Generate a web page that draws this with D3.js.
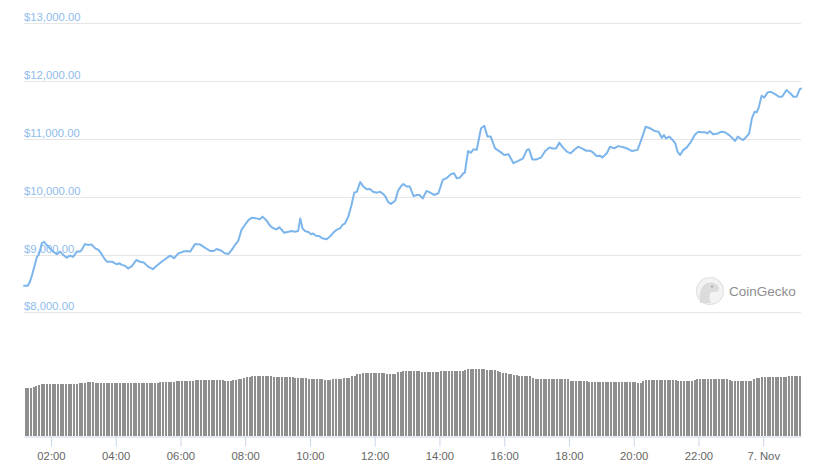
<!DOCTYPE html>
<html>
<head>
<meta charset="utf-8">
<script src="https://cdn.jsdelivr.net/npm/d3@7"></script>
<style>
  html, body { margin: 0; padding: 0; background: #ffffff; }
  svg { display: block; }
  text { font-family: "Liberation Sans", Arial, sans-serif; }
</style>
</head>
<body>
<svg id="chart" width="828" height="467"></svg>
<script>
// ---------- DATA ----------
const startTime = new Date(2019, 10, 6, 1, 10); // Nov 6, 01:10
const spanMinutes = 1440;

// price samples: minutes after start
const priceOffsets = [0,7,11,15,20,24,27,30,33,37,42,48,54,61,67,73,79,85,91,98,
104,107,113,119,125,132,138,144,150,154,163,172,177,181,187,193,200,208,215,222,
230,239,246,255,264,271,278,286,295,302,308,317,326,335,345,351,357,366,372,379,
385,391,397,403,410,416,422,431,437,442,450,456,462,468,473,478,482,490,496,502,
508,512,516,521,527,532,536,541,547,553,561,567,573,579,586,590,595,601,607,612,
617,623,629,635,641,647,654,660,666,670,675,680,688,693,699,703,709,715,722,728,
733,739,746,752,760,768,776,783,791,797,802,808,814,817,823,828,833,839,842,847,
853,859,865,873,882,890,898,907,916,925,932,936,942,950,958,966,974,980,986,992,
999,1006,1013,1021,1027,1034,1042,1049,1054,1061,1067,1072,1080,1086,1094,1101,1111,1120,1127,1137,
1145,1152,1160,1169,1176,1182,1186,1190,1196,1202,1207,1211,1216,1222,1228,1236,1244,1250,1256,1262,
1267,1271,1277,1286,1292,1299,1307,1313,1318,1323,1327,1333,1339,1344,1349,1354,1358,1362,1367,1372,
1378,1384,1392,1399,1405,1413,1420,1426,1432,1438,1440];

// price in USD at those times
const priceValues = [8460,8460,8530,8645,8820,8960,8990,9080,9195,9220,9165,9105,9050,9005,9050,8990,8945,8980,8960,9050,
9050,9080,9180,9165,9175,9105,9080,9005,8915,8875,8875,8830,8850,8820,8805,8760,8800,8905,8875,8860,
8790,8745,8805,8875,8935,8980,8935,9020,9050,9060,9050,9180,9175,9120,9060,9060,9095,9065,9020,9010,
9080,9165,9235,9425,9520,9595,9635,9625,9610,9655,9585,9495,9455,9435,9470,9425,9375,9395,9405,9395,
9405,9625,9455,9405,9390,9350,9365,9325,9320,9280,9265,9310,9375,9425,9455,9510,9540,9655,9855,10070,
10085,10255,10175,10130,10135,10085,10070,10085,10045,10000,9905,9875,9930,10100,10185,10220,10175,10175,10010,10030,
10030,9970,10100,10075,10030,10060,10290,10320,10390,10405,10320,10330,10405,10415,10790,10760,10820,10810,10950,11185,
11225,11040,11040,10835,10780,10720,10735,10580,10620,10665,10810,10820,10645,10645,10675,10790,10850,10835,10835,10935,
10850,10780,10750,10820,10865,10835,10795,10795,10770,10705,10710,10680,10750,10865,10835,10875,10855,10825,10790,10810,
11010,11210,11185,11135,11125,11020,11065,11010,11040,10980,10925,10780,10720,10810,10850,10950,11080,11125,11115,11115,
11095,11135,11080,11095,11125,11115,11065,11010,10965,11040,11010,10980,11040,11095,11355,11470,11460,11555,11745,11715,
11805,11815,11775,11730,11730,11845,11790,11730,11730,11865,11870];

// 24h volume (billions USD), one bar every 5 minutes from start
const volumeStepMinutes = 5;
const volumeValues = [
24.0,24.0,24.1,24.6,25.2,25.6,
26.0,26.0,26.1,26.0,26.0,26.0,26.1,26.0,26.0,26.0,26.0,26.1,26.0,26.0,
26.5,26.6,26.5,27.0,27.1,26.9,
26.5,26.5,26.5,26.6,26.5,26.5,26.5,26.5,26.4,26.5,26.5,26.3,26.3,26.5,26.5,26.5,26.5,26.5,26.5,26.5,26.5,26.5,26.6,26.5,
27.0,27.0,27.0,27.1,27.0,27.0,
27.5,27.5,27.6,27.5,27.5,27.5,27.5,
28.0,28.0,28.0,28.1,28.0,28.0,28.0,28.0,28.0,28.0,28.0,
27.5,27.5,27.6,28.2,28.2,28.3,28.5,29.0,29.3,29.6,
30.0,30.0,30.1,30.0,30.0,30.0,30.1,30.0,
29.3,29.3,29.3,29.4,29.3,29.3,29.3,29.3,29.2,
29.0,29.0,29.0,29.0,
28.5,28.5,28.5,28.6,28.5,28.5,
28.0,28.0,28.1,28.5,28.5,28.5,28.6,29.0,29.1,29.2,29.8,30.1,
30.8,31.2,31.3,31.3,31.3,31.3,31.4,31.3,31.3,31.3,31.3,31.2,
31.0,31.0,31.1,
31.8,32.1,32.3,32.6,32.3,32.4,32.3,32.5,32.3,
32.0,32.0,32.0,32.1,32.2,32.1,32.1,
32.5,32.5,32.6,32.5,32.5,32.4,32.5,32.5,32.6,32.8,
33.4,33.5,33.5,33.3,33.5,33.5,33.3,
32.8,32.8,32.9,32.8,32.3,31.8,31.6,31.4,31.0,30.8,30.6,30.4,
30.2,30.1,30.0,30.0,29.8,29.2,28.7,
28.6,28.6,28.7,28.6,28.6,28.6,28.6,28.6,28.7,28.6,28.6,28.6,
27.6,27.6,27.6,27.6,27.6,27.6,27.4,
27.0,27.0,27.0,27.0,27.0,27.0,27.0,27.0,27.0,27.0,27.0,27.0,27.0,27.0,27.0,27.0,27.0,27.0,
26.4,26.3,27.4,27.8,
28.0,28.0,28.0,28.0,28.0,28.0,28.0,28.0,28.0,28.0,28.0,
27.6,27.6,27.6,27.6,27.6,27.6,28.0,28.3,
28.5,28.5,28.5,28.5,28.5,28.5,28.5,28.5,28.5,28.5,28.5,
28.0,27.5,27.5,27.5,27.5,27.5,27.5,27.5,27.5,
28.3,28.8,29.2,
29.6,29.6,29.6,29.6,29.6,29.6,29.6,29.6,29.6,29.6,
30.1,30.1,30.0,30.1,30.1];

const priceTicks = [8000, 9000, 10000, 11000, 12000, 13000];
const timeTickHours = [2, 4, 6, 8, 10, 12, 14, 16, 18, 20, 22, 24];
const volumeDomainMax = 50;

// ---------- CHART ----------
const svg = d3.select("#chart");
const MIN = 60000;
const endTime = new Date(startTime.getTime() + spanMinutes * MIN);
const day0 = new Date(2019, 10, 6, 0, 0);

const x = d3.scaleTime().domain([startTime, endTime]).range([24, 801]);
const y = d3.scaleLinear().domain([8000, 13000]).range([312.3, 23.3]);
const yVol = d3.scaleLinear().domain([0, volumeDomainMax]).range([436, 336]);

// gridlines + labels
const grid = svg.append("g");
grid.selectAll("line").data(priceTicks).join("line")
  .attr("x1", 24).attr("x2", 801)
  .attr("y1", d => Math.round(y(d)) + 0.5).attr("y2", d => Math.round(y(d)) + 0.5)
  .attr("stroke", "#e6e6e6").attr("stroke-width", 1);
const fmt = d3.format("$,.2f");
grid.selectAll("text").data(priceTicks).join("text")
  .attr("x", 24).attr("y", d => Math.round(y(d)) - 2.5)
  .attr("font-size", "11.3px").attr("fill", "#8fbcec")
  .text(d => fmt(d));

// watermark
const wm = svg.append("g");
wm.append("circle").attr("cx", 710).attr("cy", 291).attr("r", 13.5)
  .attr("fill", "#f3f3f3").attr("stroke", "#e2e2e2").attr("stroke-width", 1.2);
wm.append("path")
  .attr("d", "M700,303 C699,296 700,289 704,285 C707,282 713,282 716,284 C719,286 720,289 718,291 C716,292 713,292 711,292 C709,294 709,299 711,303 Z")
  .attr("fill", "#dcdcdc");
wm.append("circle").attr("cx", 712).attr("cy", 286.5).attr("r", 1.3).attr("fill", "#b5b5b5");
wm.append("text").attr("x", 729).attr("y", 296).attr("font-size", "13.5px")
  .attr("fill", "#8e8e8e").text("CoinGecko");

// volume bars
const vol = svg.append("g").attr("shape-rendering", "crispEdges");
vol.selectAll("rect").data(volumeValues).join("rect")
  .attr("x", (d, i) => Math.round(x(new Date(startTime.getTime() + i * volumeStepMinutes * MIN)) + 0.6))
  .attr("width", 2)
  .attr("y", d => Math.round(yVol(d)))
  .attr("height", d => yVol(0) - Math.round(yVol(d)))
  .attr("fill", "#8f8f8f");

// x axis
const tickDates = timeTickHours.map(h => new Date(day0.getTime() + h * 60 * MIN));
const xAxis = d3.axisBottom(x).tickValues(tickDates).tickSizeInner(10).tickSizeOuter(0)
  .tickPadding(5)
  .tickFormat(d => (d.getHours() === 0 && d.getMinutes() === 0) ? d3.timeFormat("%-d. %b")(d) : d3.timeFormat("%H:%M")(d));
const gx = svg.append("g").attr("transform", "translate(0,436.5)").call(xAxis);
gx.select(".domain").attr("stroke", "#ccd6eb");
gx.selectAll(".tick line").attr("stroke", "#ccd6eb");
gx.selectAll(".tick text").attr("fill", "#666666").attr("font-size", "11.3px")
  .attr("font-family", "'Liberation Sans', Arial, sans-serif");

// price line
const pts = d3.zip(priceOffsets, priceValues);
const line = d3.line()
  .x(d => x(new Date(startTime.getTime() + d[0] * MIN)))
  .y(d => y(d[1]))
  .curve(d3.curveLinear);
svg.append("path").datum(pts)
  .attr("d", line)
  .attr("fill", "none")
  .attr("stroke", "#7cb5ec")
  .attr("stroke-width", 2)
  .attr("stroke-linejoin", "round")
  .attr("stroke-linecap", "round");
</script>
</body>
</html>
